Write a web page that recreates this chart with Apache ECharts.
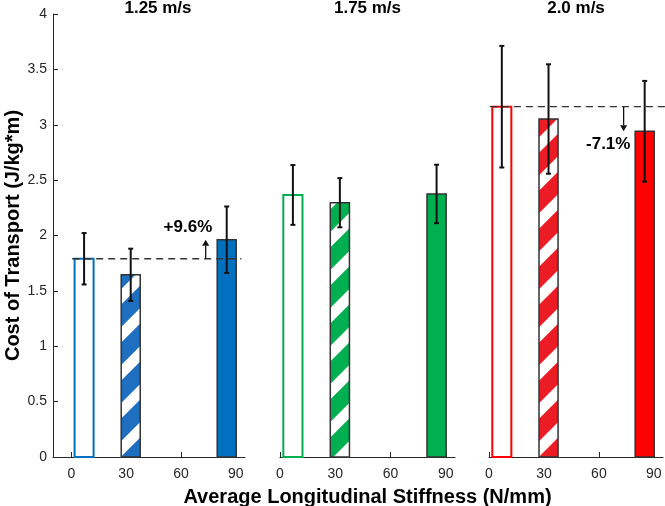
<!DOCTYPE html>
<html>
<head>
<meta charset="utf-8">
<script src="https://cdn.jsdelivr.net/npm/echarts@6/dist/echarts.min.js"></script>
<style>html,body{margin:0;padding:0;background:#fff;}#c{width:665px;height:506px;}</style>
</head>
<body>
<div id="c"></div>
<script>
// ---- data ----
const speeds = ['1.25 m/s', '1.75 m/s', '2.0 m/s'];
const stiffness = [7, 32.5, 85];            // average longitudinal stiffness (N/mm)
const barKinds = ['hollow', 'hatched', 'solid'];
const cot125 = [1.79, 1.645, 1.962];
const err125 = [0.232, 0.236, 0.300];
const cot175 = [2.366, 2.296, 2.375];
const err175 = [0.270, 0.222, 0.264];
const cot200 = [3.163, 3.052, 2.941];
const err200 = [0.549, 0.494, 0.455];
const xTicks = [0, 30, 60, 90];
const changeLabels = ['+9.6%', null, '-7.1%'];

const cots = [cot125, cot175, cot200];
const errs = [err125, err175, err200];
const colors = ['#0070C0', '#00B050', '#FF0000'];
const hatchColors = ['#1F6FC0', '#00B050', '#EC1C24'];
const FONT = "'Liberation Sans', Arial, sans-serif";
const BAR_W = 10.4; // in data units

function makeHatch(color) {
  const P = 38;
  const cv = document.createElement('canvas');
  cv.width = P; cv.height = P;
  const ctx = cv.getContext('2d');
  ctx.fillStyle = color;
  ctx.fillRect(0, 0, P, P);
  ctx.strokeStyle = '#ffffff';
  ctx.lineWidth = 11;
  ctx.lineCap = 'butt';
  for (let c = 0; c <= 2 * P; c += P) {
    ctx.beginPath();
    ctx.moveTo(c + 12, -12);
    ctx.lineTo(c - P - 12, P + 12);
    ctx.stroke();
  }
  return cv;
}
const hatches = hatchColors.map(makeHatch);

const chart = echarts.init(document.getElementById('c'), null, {renderer: 'canvas'});

const gridPos = [
  {left: 53, top: 14, width: 192, height: 443, containLabel: false, outerBoundsMode: 'none'},
  {left: 280, top: 14, width: 175, height: 443, containLabel: false, outerBoundsMode: 'none'},
  {left: 489, top: 14, width: 174, height: 443, containLabel: false, outerBoundsMode: 'none'}
];
const xMins = [-10, 0, 0];

const axisLineStyle = {color: '#262626', width: 1};
const xAxes = gridPos.map((g, i) => ({
  type: 'value', gridIndex: i, min: xMins[i], max: 95,
  axisLine: {show: true, lineStyle: axisLineStyle, onZero: false},
  axisTick: {show: true, inside: true, length: 5, lineStyle: axisLineStyle, customValues: xTicks},
  axisLabel: {show: true, customValues: xTicks, color: '#262626', fontSize: 14, fontFamily: FONT, margin: 10},
  splitLine: {show: false},
  name: i === 1 ? 'Average Longitudinal Stiffness (N/mm)' : '',
  nameLocation: 'middle', nameGap: 30,
  nameTextStyle: {fontSize: 20, fontWeight: 'bold', color: '#000', fontFamily: FONT}
}));
const yAxes = gridPos.map((g, i) => ({
  type: 'value', gridIndex: i, min: 0, max: 4, interval: 0.5, show: i === 0,
  axisLine: {show: true, lineStyle: axisLineStyle, onZero: false},
  axisTick: {show: true, inside: true, length: 5, lineStyle: axisLineStyle},
  axisLabel: {color: '#262626', fontSize: 14, fontFamily: FONT, margin: 6},
  splitLine: {show: false},
  name: i === 0 ? 'Cost of Transport (J/kg*m)' : '',
  nameLocation: 'middle', nameGap: 24, nameRotate: 90,
  nameTextStyle: {fontSize: 20, fontWeight: 'bold', color: '#000', fontFamily: FONT}
}));

const series = [];
for (let p = 0; p < 3; p++) {
  const barData = stiffness.map((x, k) => [x, cots[p][k], k, errs[p][k]]);
  // bars
  series.push({
    type: 'custom', xAxisIndex: p, yAxisIndex: p, coordinateSystem: 'cartesian2d',
    data: barData, encode: {x: 0, y: 1}, z: 2, clip: false,
    renderItem: (params, api) => {
      const x = api.value(0), y = api.value(1), k = api.value(2);
      const a = api.coord([x - BAR_W / 2, y]);
      const b = api.coord([x + BAR_W / 2, 0]);
      const kind = barKinds[k];
      let style;
      if (kind === 'hollow') style = {fill: '#fff', stroke: colors[p], lineWidth: 2};
      else if (kind === 'hatched') style = {fill: {image: hatches[p], repeat: 'repeat'}, stroke: '#333', lineWidth: 1.5};
      else style = {fill: colors[p], stroke: '#333', lineWidth: 1.5};
      return {type: 'rect', shape: {x: a[0], y: a[1], width: b[0] - a[0], height: b[1] - a[1]}, style};
    }
  });
  // reference dashed line + arrow + label (panels 1 and 3)
  if (changeLabels[p]) {
    const base = cots[p][0];
    const target = cots[p][2];
    const xEnd = p === 0 ? 93 : 98;
    const arrowX = 73.5;
    const labelPos = p === 0 ? [63.8, 2.077] : [65.1, 2.823];
    series.push({
      type: 'custom', xAxisIndex: p, yAxisIndex: p, coordinateSystem: 'cartesian2d',
      data: [[0.5, base, target]], z: 3, clip: false,
      renderItem: (params, api) => {
        const l0 = api.coord([0.5, base]);
        const l1 = api.coord([xEnd, base]);
        const a0 = api.coord([arrowX, base]);
        const a1 = api.coord([arrowX, target]);
        const dir = a1[1] < a0[1] ? -1 : 1;
        const headLen = 6;
        const tp = api.coord(labelPos);
        return {type: 'group', children: [
          {type: 'line', shape: {x1: l0[0], y1: l0[1], x2: l1[0], y2: l1[1]},
           style: {stroke: '#333', lineWidth: 1.3, lineDash: [7, 5]}},
          {type: 'line', shape: {x1: a0[0], y1: a0[1], x2: a1[0], y2: a1[1] - dir * headLen},
           style: {stroke: '#111', lineWidth: 1.3}},
          {type: 'polygon', shape: {points: [[a1[0], a1[1]], [a1[0] - 3.5, a1[1] - dir * headLen], [a1[0] + 3.5, a1[1] - dir * headLen]]},
           style: {fill: '#111'}},
          {type: 'text', x: tp[0], y: tp[1], style: {text: changeLabels[p], fill: '#000', font: 'bold 17px ' + FONT, align: 'center', verticalAlign: 'middle'}}
        ]};
      }
    });
  }
  // error bars
  series.push({
    type: 'custom', xAxisIndex: p, yAxisIndex: p, coordinateSystem: 'cartesian2d',
    data: barData, encode: {x: 0, y: 1}, z: 4, clip: false,
    renderItem: (params, api) => {
      const x = api.value(0), y = api.value(1), e = api.value(3);
      const hi = api.coord([x, y + e]);
      const lo = api.coord([x, y - e]);
      const cw = 2.5;
      const st = {stroke: '#111', lineWidth: 2};
      return {type: 'group', children: [
        {type: 'line', shape: {x1: hi[0], y1: hi[1], x2: lo[0], y2: lo[1]}, style: st},
        {type: 'line', shape: {x1: hi[0] - cw, y1: hi[1], x2: hi[0] + cw, y2: hi[1]}, style: st},
        {type: 'line', shape: {x1: lo[0] - cw, y1: lo[1], x2: lo[0] + cw, y2: lo[1]}, style: st}
      ]};
    }
  });
}

const titleCenters = [158, 367.5, 576];
chart.setOption({
  animation: false,
  backgroundColor: '#fff',
  title: speeds.map((s, i) => ({
    text: s, left: titleCenters[i], top: 0, textAlign: 'center', padding: 0,
    textStyle: {fontSize: 17, fontWeight: 'bold', color: '#000', fontFamily: FONT}
  })),
  grid: gridPos,
  xAxis: xAxes,
  yAxis: yAxes,
  series
});
</script>
</body>
</html>
